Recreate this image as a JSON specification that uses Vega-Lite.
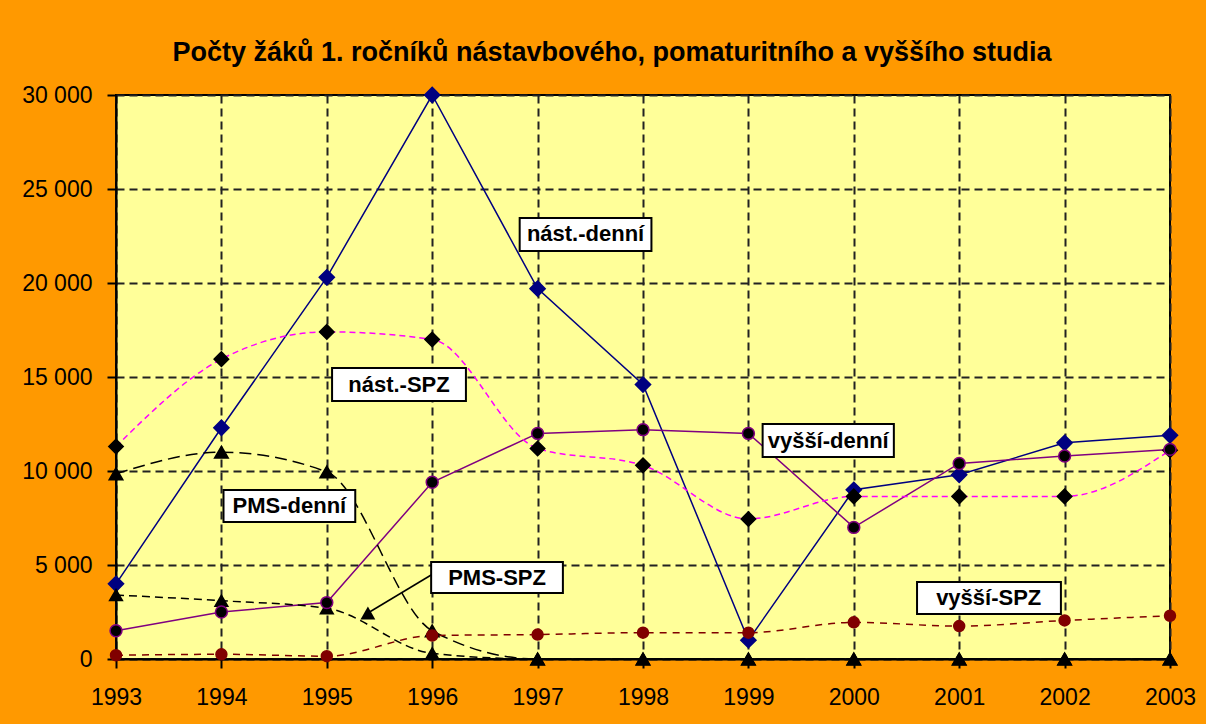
{
  "$schema": "https://vega.github.io/schema/vega-lite/v6.json",
  "autosize": "none",
  "width": 1054,
  "height": 564,
  "padding": {"left": 116, "top": 95, "right": 36, "bottom": 65},
  "background": "#FF9900",
  "title": {
    "text": "Počty žáků 1. ročníků nástavbového, pomaturitního a vyššího studia",
    "font": "Liberation Sans",
    "fontSize": 27,
    "fontWeight": "bold",
    "color": "#000000",
    "anchor": "middle",
    "baseline": "alphabetic",
    "offset": 34,
    "dy": 38,
    "dx": -31
  },
  "config": {
    "view": {"fill": "#FFFF99", "stroke": "#000000", "strokeWidth": 2},
    "font": "Liberation Sans"
  },
  "datasets": {
    "main": [
      {"year": 1993, "series": "nást.-denní", "value": 4000},
      {"year": 1994, "series": "nást.-denní", "value": 12300},
      {"year": 1995, "series": "nást.-denní", "value": 20300},
      {"year": 1996, "series": "nást.-denní", "value": 30000},
      {"year": 1997, "series": "nást.-denní", "value": 19700},
      {"year": 1998, "series": "nást.-denní", "value": 14600},
      {"year": 1999, "series": "nást.-denní", "value": 1000},
      {"year": 2000, "series": "nást.-denní", "value": 9000},
      {"year": 2001, "series": "nást.-denní", "value": 9800},
      {"year": 2002, "series": "nást.-denní", "value": 11500},
      {"year": 2003, "series": "nást.-denní", "value": 11900},
      {"year": 1993, "series": "nást.-SPZ", "value": 11300},
      {"year": 1994, "series": "nást.-SPZ", "value": 15950},
      {"year": 1995, "series": "nást.-SPZ", "value": 17400},
      {"year": 1996, "series": "nást.-SPZ", "value": 17000},
      {"year": 1997, "series": "nást.-SPZ", "value": 11200},
      {"year": 1998, "series": "nást.-SPZ", "value": 10300},
      {"year": 1999, "series": "nást.-SPZ", "value": 7450},
      {"year": 2000, "series": "nást.-SPZ", "value": 8650},
      {"year": 2001, "series": "nást.-SPZ", "value": 8650},
      {"year": 2002, "series": "nást.-SPZ", "value": 8650},
      {"year": 2003, "series": "nást.-SPZ", "value": 11100},
      {"year": 1993, "series": "PMS-denní", "value": 9850},
      {"year": 1994, "series": "PMS-denní", "value": 11000},
      {"year": 1995, "series": "PMS-denní", "value": 9950},
      {"year": 1996, "series": "PMS-denní", "value": 1500},
      {"year": 1997, "series": "PMS-denní", "value": 0},
      {"year": 1998, "series": "PMS-denní", "value": 0},
      {"year": 1999, "series": "PMS-denní", "value": 0},
      {"year": 2000, "series": "PMS-denní", "value": 0},
      {"year": 2001, "series": "PMS-denní", "value": 0},
      {"year": 2002, "series": "PMS-denní", "value": 0},
      {"year": 2003, "series": "PMS-denní", "value": 0},
      {"year": 1993, "series": "PMS-SPZ", "value": 3400},
      {"year": 1994, "series": "PMS-SPZ", "value": 3100},
      {"year": 1995, "series": "PMS-SPZ", "value": 2700},
      {"year": 1996, "series": "PMS-SPZ", "value": 300},
      {"year": 1997, "series": "PMS-SPZ", "value": 0},
      {"year": 1998, "series": "PMS-SPZ", "value": 0},
      {"year": 1999, "series": "PMS-SPZ", "value": 0},
      {"year": 2000, "series": "PMS-SPZ", "value": 0},
      {"year": 2001, "series": "PMS-SPZ", "value": 0},
      {"year": 2002, "series": "PMS-SPZ", "value": 0},
      {"year": 2003, "series": "PMS-SPZ", "value": 0},
      {"year": 1993, "series": "vyšší-denní", "value": 1500},
      {"year": 1994, "series": "vyšší-denní", "value": 2500},
      {"year": 1995, "series": "vyšší-denní", "value": 3000},
      {"year": 1996, "series": "vyšší-denní", "value": 9400},
      {"year": 1997, "series": "vyšší-denní", "value": 12000},
      {"year": 1998, "series": "vyšší-denní", "value": 12200},
      {"year": 1999, "series": "vyšší-denní", "value": 12000},
      {"year": 2000, "series": "vyšší-denní", "value": 7000},
      {"year": 2001, "series": "vyšší-denní", "value": 10400},
      {"year": 2002, "series": "vyšší-denní", "value": 10800},
      {"year": 2003, "series": "vyšší-denní", "value": 11150},
      {"year": 1993, "series": "vyšší-SPZ", "value": 200},
      {"year": 1994, "series": "vyšší-SPZ", "value": 250},
      {"year": 1995, "series": "vyšší-SPZ", "value": 150},
      {"year": 1996, "series": "vyšší-SPZ", "value": 1250},
      {"year": 1997, "series": "vyšší-SPZ", "value": 1300},
      {"year": 1998, "series": "vyšší-SPZ", "value": 1400},
      {"year": 1999, "series": "vyšší-SPZ", "value": 1400},
      {"year": 2000, "series": "vyšší-SPZ", "value": 1950},
      {"year": 2001, "series": "vyšší-SPZ", "value": 1750},
      {"year": 2002, "series": "vyšší-SPZ", "value": 2050},
      {"year": 2003, "series": "vyšší-SPZ", "value": 2300}
    ],
    "labels": [
      {"label": "nást.-denní", "bx1": 1996.83, "bx2": 1998.08, "by1": 23457, "by2": 21702, "cx": 1997.455, "cy": 22580},
      {"label": "nást.-SPZ", "bx1": 1995.05, "bx2": 1996.32, "by1": 15479, "by2": 13723, "cx": 1995.685, "cy": 14601},
      {"label": "PMS-denní", "bx1": 1994.02, "bx2": 1995.27, "by1": 8989, "by2": 7287, "cx": 1994.645, "cy": 8138},
      {"label": "PMS-SPZ", "bx1": 1995.99, "bx2": 1997.24, "by1": 5160, "by2": 3511, "cx": 1996.615, "cy": 4335},
      {"label": "vyšší-denní", "bx1": 1999.135, "bx2": 2000.38, "by1": 12500, "by2": 10745, "cx": 1999.757, "cy": 11622},
      {"label": "vyšší-SPZ", "bx1": 2000.6, "bx2": 2001.965, "by1": 4096, "by2": 2394, "cx": 2001.28, "cy": 3245}
    ],
    "leader": [
      {"x1": 1995.39, "y1": 2447, "x2": 1995.99, "y2": 4468}
    ]
  },
  "encoding": {
    "x": {
      "field": "year", "type": "quantitative",
      "scale": {"domain": [1993, 2003], "nice": false, "zero": false},
      "axis": {
        "title": null,
        "values": [1993, 1994, 1995, 1996, 1997, 1998, 1999, 2000, 2001, 2002, 2003],
        "format": "d",
        "labelFont": "Liberation Sans", "labelFontSize": 23, "labelColor": "#000000",
        "labelPadding": 18, "labelFlush": false, "labelOverlap": false,
        "tickColor": "#000000", "tickSize": 9, "tickWidth": 2,
        "domainColor": "#000000", "domainWidth": 2,
        "grid": true, "gridColor": "#222222", "gridDash": [8, 5], "gridWidth": 2
      }
    },
    "y": {
      "field": "value", "type": "quantitative",
      "scale": {"domain": [0, 30000], "nice": false},
      "axis": {
        "title": null,
        "values": [0, 5000, 10000, 15000, 20000, 25000, 30000],
        "labelExpr": "replace(format(datum.value, ','), ',', ' ')",
        "labelFont": "Liberation Sans", "labelFontSize": 23, "labelColor": "#000000",
        "labelPadding": 15, "labelFlush": false, "labelOverlap": false,
        "tickColor": "#000000", "tickSize": 9, "tickWidth": 2,
        "domainColor": "#000000", "domainWidth": 2,
        "grid": true, "gridColor": "#222222", "gridDash": [8, 5], "gridWidth": 2
      }
    }
  },
  "layer": [
    {
      "data": {"name": "main"},
      "transform": [{"filter": "datum.series === 'nást.-denní' || datum.series === 'vyšší-denní'"}],
      "mark": {"type": "line", "strokeWidth": 1.5, "interpolate": "linear"},
      "encoding": {
        "detail": {"field": "series"},
        "color": {
          "field": "series", "type": "nominal", "legend": null,
          "scale": {"domain": ["nást.-denní", "nást.-SPZ", "PMS-denní", "PMS-SPZ", "vyšší-denní", "vyšší-SPZ"],
                    "range": ["#000080", "#FF00FF", "#000000", "#000000", "#800080", "#800000"]}
        }
      }
    },
    {
      "data": {"name": "main"},
      "transform": [{"filter": "datum.series !== 'nást.-denní' && datum.series !== 'vyšší-denní'"}],
      "mark": {"type": "line", "strokeWidth": 1.5, "interpolate": "monotone"},
      "encoding": {
        "color": {"field": "series", "type": "nominal", "legend": null},
        "strokeDash": {
          "field": "series", "type": "nominal", "legend": null,
          "scale": {"domain": ["nást.-SPZ", "PMS-denní", "PMS-SPZ", "vyšší-SPZ"],
                    "range": [[6, 4], [12, 6], [8, 5], [7, 6]]}
        }
      }
    },
    {
      "data": {"name": "main"},
      "mark": {"type": "point", "filled": true, "opacity": 1, "strokeWidth": 1.5},
      "encoding": {
        "shape": {
          "field": "series", "type": "nominal", "legend": null,
          "scale": {"domain": ["nást.-denní", "nást.-SPZ", "PMS-denní", "PMS-SPZ", "vyšší-denní", "vyšší-SPZ"],
                    "range": ["diamond", "diamond", "triangle-up", "triangle-up", "circle", "circle"]}
        },
        "fill": {
          "field": "series", "type": "nominal", "legend": null,
          "scale": {"domain": ["nást.-denní", "nást.-SPZ", "PMS-denní", "PMS-SPZ", "vyšší-denní", "vyšší-SPZ"],
                    "range": ["#000080", "#000000", "#000000", "#000000", "#000000", "#800000"]}
        },
        "stroke": {
          "field": "series", "type": "nominal", "legend": null,
          "scale": {"domain": ["nást.-denní", "nást.-SPZ", "PMS-denní", "PMS-SPZ", "vyšší-denní", "vyšší-SPZ"],
                    "range": ["#000080", "#000000", "#000000", "#000000", "#800080", "#800000"]}
        },
        "size": {
          "field": "series", "type": "nominal", "legend": null,
          "scale": {"domain": ["nást.-denní", "nást.-SPZ", "PMS-denní", "PMS-SPZ", "vyšší-denní", "vyšší-SPZ"],
                    "range": [230, 120, 150, 150, 160, 100]}
        }
      }
    },
    {
      "data": {"name": "leader"},
      "mark": {"type": "rule", "color": "#000000", "strokeWidth": 1.5},
      "encoding": {
        "x": {"field": "x1", "type": "quantitative"},
        "y": {"field": "y1", "type": "quantitative"},
        "x2": {"field": "x2"},
        "y2": {"field": "y2"}
      }
    },
    {
      "data": {"name": "leader"},
      "mark": {"type": "point", "shape": "triangle-up", "filled": true, "color": "#000000", "size": 220, "opacity": 1},
      "encoding": {
        "x": {"field": "x1", "type": "quantitative"},
        "y": {"field": "y1", "type": "quantitative"}
      }
    },
    {
      "data": {"name": "labels"},
      "mark": {"type": "rect", "fill": "#FFFFFF", "stroke": "#000000", "strokeWidth": 2},
      "encoding": {
        "x": {"field": "bx1", "type": "quantitative"},
        "x2": {"field": "bx2"},
        "y": {"field": "by1", "type": "quantitative"},
        "y2": {"field": "by2"}
      }
    },
    {
      "data": {"name": "labels"},
      "mark": {"type": "text", "font": "Liberation Sans", "fontSize": 22, "fontWeight": "bold", "color": "#000000", "align": "center", "baseline": "middle"},
      "encoding": {
        "x": {"field": "cx", "type": "quantitative"},
        "y": {"field": "cy", "type": "quantitative"},
        "text": {"field": "label"}
      }
    }
  ]
}
